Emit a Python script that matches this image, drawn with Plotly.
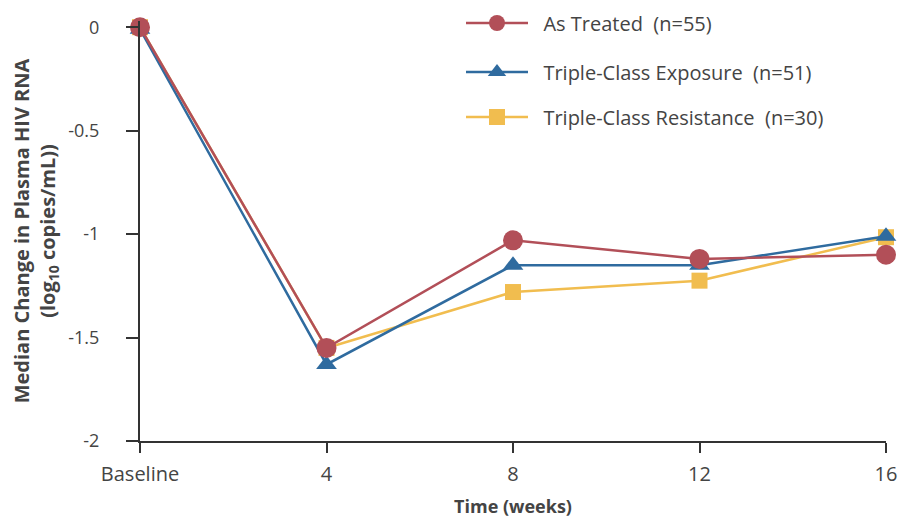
import plotly.graph_objects as go

weeks = [0, 4, 8, 12, 16]
tick_labels = ["Baseline", "4", "8", "12", "16"]
as_treated = [0.0, -1.55, -1.03, -1.12, -1.10]
tc_exposure = [-0.01, -1.63, -1.15, -1.15, -1.01]
tc_resistance = [0.0, -1.55, -1.28, -1.225, -1.015]

names = ["\u00a0\u00a0As Treated\u00a0\u00a0(n=55)", "\u00a0\u00a0Triple-Class Exposure\u00a0\u00a0(n=51)",
         "\u00a0\u00a0Triple-Class Resistance\u00a0\u00a0(n=30)"]
colors = ["#b24f58", "#2f6b9f", "#f1bd4f"]
symbols = ["circle", "triangle-up", "square"]
sizes = [20, 18, 16]
series = [as_treated, tc_exposure, tc_resistance]
legends = ["legend", "legend2", "legend3"]
order = [2, 1, 0]

FONT = "Open Sans, sans-serif"
fig = go.Figure()
for i in order:
    fig.add_trace(go.Scatter(
        x=weeks, y=series[i], name=names[i], mode="lines+markers",
        line=dict(color=colors[i], width=2.5),
        marker=dict(symbol=symbols[i], size=sizes[i], color=colors[i]),
        cliponaxis=False, legend=legends[i]))

leg_common = dict(font=dict(family=FONT, size=20, color="#444"), itemwidth=62,
                  bgcolor="rgba(0,0,0,0)", xanchor="left", yanchor="middle",
                  x=(461 - 140) / 746, yref="container")
fig.update_layout(
    width=902, height=518,
    margin=dict(l=140, r=16, t=21, b=77, autoexpand=False),
    plot_bgcolor="white", paper_bgcolor="white",
    font=dict(family=FONT, color="#444"),
    showlegend=True,
    legend=dict(y=1 - 23 / 518, **leg_common),
    legend2=dict(y=1 - 72 / 518, **leg_common),
    legend3=dict(y=1 - 117 / 518, **leg_common),
    xaxis=dict(range=[0, 16], tickvals=weeks, ticktext=tick_labels,
               showgrid=False, zeroline=False, showline=True, linecolor="#333",
               linewidth=2, ticks="outside", ticklen=10, tickwidth=2, tickcolor="#333",
               ticklabelstandoff=4,
               tickfont=dict(size=20, color="#444", family=FONT),
               title=dict(text="<b>Time (weeks)</b>", font=dict(size=18, color="#444", family=FONT), standoff=20)),
    yaxis=dict(range=[-2, 0.03], tickvals=[0, -0.5, -1, -1.5, -2],
               ticktext=["0", "-0.5", "-1", "-1.5", "-2"],
               showgrid=False, zeroline=False, showline=True, linecolor="#333",
               linewidth=2, ticks="outside", ticklen=12, tickwidth=2, tickcolor="#333",
               ticklabelstandoff=23,
               tickfont=dict(size=18, color="#444", family=FONT),
               title=dict(text="<b>Median Change in Plasma HIV RNA<br>(log<sub>10</sub> copies/mL))</b>",
                          font=dict(size=20, color="#444", family=FONT), standoff=7)),
)
fig.write_html("out.html")
